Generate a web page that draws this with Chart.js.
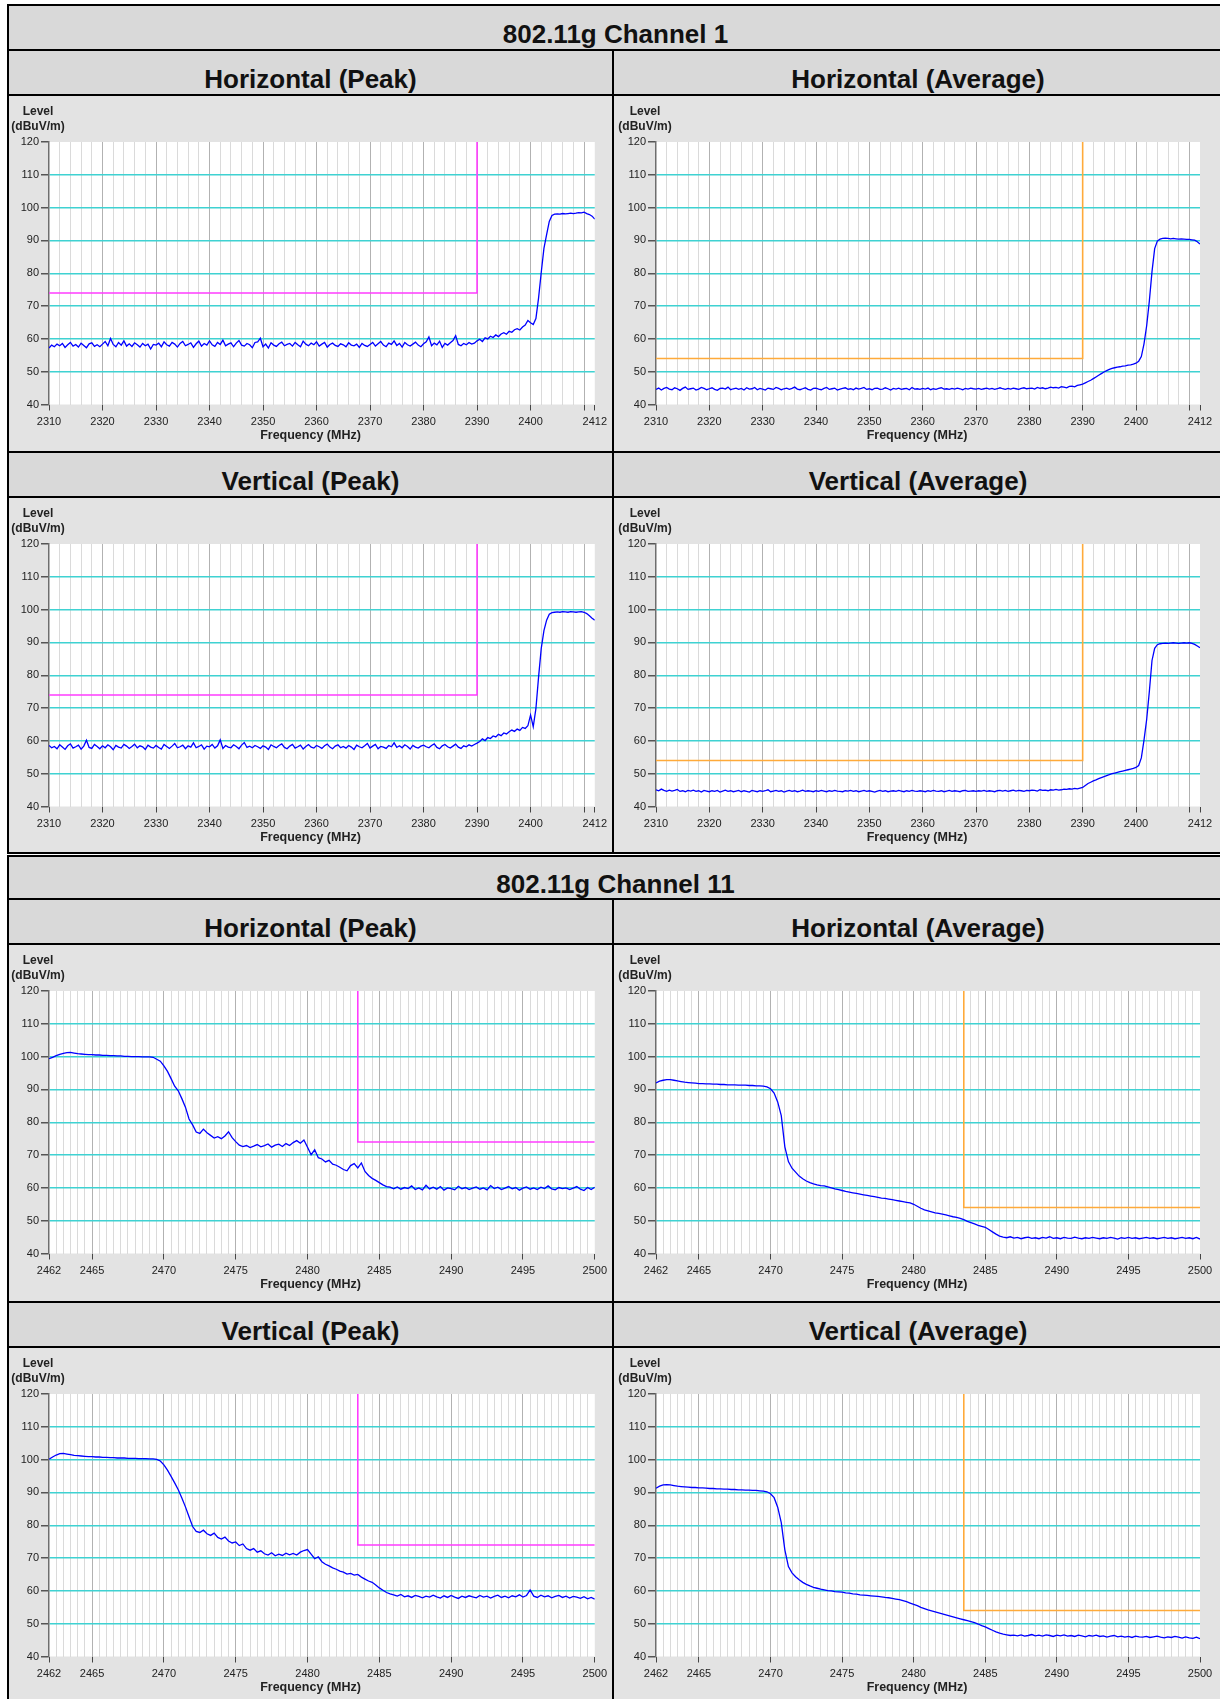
<!DOCTYPE html>
<html>
<head>
<meta charset="utf-8">
<title>802.11g Band Edge</title>
<script src="https://cdn.jsdelivr.net/npm/chart.js@4.4.1/dist/chart.umd.min.js"></script>
<style>
  html, body { margin: 0; padding: 0; background: #fff; }
  body { width: 1220px; height: 1699px; overflow: hidden; position: relative;
         font-family: "Liberation Sans", Arial, sans-serif; }
  .rule { position: absolute; background: #000; z-index: 3; }
  .head { position: absolute; background: #d9d9d9; text-align: center; font-weight: bold;
          font-size: 26px; line-height: 26px; color: #111; box-sizing: border-box; padding-top: 15px; }
  .panel { position: absolute; background: #e3e3e3; }
  canvas { position: absolute; z-index: 2; }
</style>
</head>
<body>

<!-- Channel 1 table -->
<div class="head" style="left:9px;top:6px;width:1213px;height:43px;">802.11g Channel 1</div>
<div class="head" style="left:9px;top:51px;width:603px;height:43px;">Horizontal (Peak)</div>
<div class="head" style="left:614px;top:51px;width:608px;height:43px;">Horizontal (Average)</div>
<div class="panel" style="left:9px;top:96px;width:603px;height:355px;"></div>
<div class="panel" style="left:614px;top:96px;width:608px;height:355px;"></div>
<div class="head" style="left:9px;top:453px;width:603px;height:43px;">Vertical (Peak)</div>
<div class="head" style="left:614px;top:453px;width:608px;height:43px;">Vertical (Average)</div>
<div class="panel" style="left:9px;top:498px;width:603px;height:354px;"></div>
<div class="panel" style="left:614px;top:498px;width:608px;height:354px;"></div>

<div class="rule" style="left:7px;top:4px;width:1215px;height:2px;"></div>
<div class="rule" style="left:7px;top:49px;width:1215px;height:2px;"></div>
<div class="rule" style="left:7px;top:94px;width:1215px;height:2px;"></div>
<div class="rule" style="left:7px;top:451px;width:1215px;height:2px;"></div>
<div class="rule" style="left:7px;top:496px;width:1215px;height:2px;"></div>
<div class="rule" style="left:7px;top:852px;width:1215px;height:2px;"></div>
<div class="rule" style="left:7px;top:4px;width:2px;height:850px;"></div>
<div class="rule" style="left:612px;top:49px;width:2px;height:805px;"></div>

<!-- Channel 11 table -->
<div class="head" style="left:9px;top:857px;width:1213px;height:41px;padding-top:14px;">802.11g Channel 11</div>
<div class="head" style="left:9px;top:900px;width:603px;height:43px;">Horizontal (Peak)</div>
<div class="head" style="left:614px;top:900px;width:608px;height:43px;">Horizontal (Average)</div>
<div class="panel" style="left:9px;top:945px;width:603px;height:356px;"></div>
<div class="panel" style="left:614px;top:945px;width:608px;height:356px;"></div>
<div class="head" style="left:9px;top:1303px;width:603px;height:43px;">Vertical (Peak)</div>
<div class="head" style="left:614px;top:1303px;width:608px;height:43px;">Vertical (Average)</div>
<div class="panel" style="left:9px;top:1348px;width:603px;height:360px;"></div>
<div class="panel" style="left:614px;top:1348px;width:608px;height:360px;"></div>

<div class="rule" style="left:7px;top:855px;width:1215px;height:2px;"></div>
<div class="rule" style="left:7px;top:898px;width:1215px;height:2px;"></div>
<div class="rule" style="left:7px;top:943px;width:1215px;height:2px;"></div>
<div class="rule" style="left:7px;top:1301px;width:1215px;height:2px;"></div>
<div class="rule" style="left:7px;top:1346px;width:1215px;height:2px;"></div>
<div class="rule" style="left:7px;top:855px;width:2px;height:860px;"></div>
<div class="rule" style="left:612px;top:898px;width:2px;height:820px;"></div>

<canvas id="c1hp" width="603" height="355" style="left:9px;top:96px;"></canvas>
<canvas id="c1ha" width="606" height="355" style="left:614px;top:96px;"></canvas>
<canvas id="c1vp" width="603" height="355" style="left:9px;top:498px;"></canvas>
<canvas id="c1va" width="606" height="355" style="left:614px;top:498px;"></canvas>
<canvas id="c11hp" width="603" height="355" style="left:9px;top:945px;"></canvas>
<canvas id="c11ha" width="606" height="355" style="left:614px;top:945px;"></canvas>
<canvas id="c11vp" width="603" height="355" style="left:9px;top:1348px;"></canvas>
<canvas id="c11va" width="606" height="355" style="left:614px;top:1348px;"></canvas>

<script>
// ---- Sweep settings (MHz) ----
const CH1_START = 2310, CH1_STOP = 2412, CH1_STEP = 0.5;
const CH11_START = 2462, CH11_STOP = 2500, CH11_STEP = 0.25;

// ---- Limits ----
const LEVEL_MIN = 40, LEVEL_MAX = 120;
const PEAK_LIMIT = 74;      // dBuV/m
const AVG_LIMIT = 54;       // dBuV/m
const CH1_BAND_EDGE = 2390;
const CH11_BAND_EDGE = 2483.5;

// ---- Axis labels ----
const levelTicks = [40, 50, 60, 70, 80, 90, 100, 110, 120];
const ch1TickLabels = [2310, 2320, 2330, 2340, 2350, 2360, 2370, 2380, 2390, 2400, 2412];
const ch1TickMarks = [2310, 2320, 2330, 2340, 2350, 2360, 2370, 2380, 2390, 2400, 2410, 2412];
const ch1MajorGrid = [2320, 2330, 2340, 2350, 2360, 2370, 2380, 2390, 2400, 2410];
const ch11TickLabels = [2462, 2465, 2470, 2475, 2480, 2485, 2490, 2495, 2500];
const ch11MajorGrid = [2465, 2470, 2475, 2480, 2485, 2490, 2495];

// ---- Channel 1 traces, 0.5 MHz per point from 2310 MHz ----
const ch1HorizontalPeak = [
  57.2,58.1,57.6,58.4,57.9,58.6,57.4,58.2,58.9,57.8,
  58.3,57.5,58.7,58.0,57.3,58.5,58.8,57.7,58.2,57.6,
  58.4,59.2,57.9,60.1,58.3,57.6,58.9,58.1,59.4,57.8,
  58.5,57.7,58.8,58.2,57.5,58.6,57.9,58.4,56.9,58.3,
  58.1,58.7,57.6,59.1,58.2,57.8,58.9,58.4,57.5,58.6,
  59.2,57.9,58.3,58.8,57.4,58.5,59.3,57.8,58.6,58.1,
  59.4,58.2,57.7,58.9,58.3,59.6,57.9,58.4,58.8,57.6,
  58.7,59.5,58.1,57.8,58.6,58.2,57.3,58.9,59.1,60.2,
  57.6,58.4,57.2,58.8,58.1,57.7,58.5,59.0,57.9,58.3,
  58.6,57.8,58.9,58.2,57.6,59.3,58.4,57.9,58.7,58.2,
  59.1,57.8,58.4,58.9,57.5,58.3,58.7,58.0,57.7,58.5,
  58.2,57.6,58.8,58.1,57.9,58.4,57.4,58.6,58.0,57.7,
  58.3,58.9,57.8,58.5,59.2,58.1,57.6,58.7,58.3,59.4,
  58.0,58.6,57.5,58.9,58.2,57.8,58.4,59.0,58.1,57.6,
  58.5,59.1,60.6,57.9,58.7,58.2,59.3,57.4,58.6,58.1,
  58.8,59.5,61.0,58.3,57.9,58.6,58.2,58.9,58.4,58.7,
  59.4,59.9,59.2,60.3,60.0,60.8,60.4,61.2,60.7,61.5,
  61.9,61.4,62.3,62.0,62.8,63.1,62.7,63.6,64.2,65.6,
  64.9,64.4,66.2,72.5,80.3,87.6,91.8,95.8,97.6,98.0,
  98.1,98.0,98.2,98.1,98.2,98.3,98.2,98.3,98.5,98.4,
  98.6,98.2,97.9,97.4,96.5
];
const ch1HorizontalAverage = [
  44.6,45.0,44.4,44.9,45.2,44.7,44.5,45.1,44.8,44.3,
  44.9,45.3,44.6,44.8,45.0,44.4,44.7,45.2,44.9,44.5,
  44.8,45.1,44.6,44.3,44.9,45.0,44.7,45.3,44.5,44.8,
  45.0,44.6,44.9,44.4,45.1,44.7,44.8,45.2,44.5,44.9,
  44.7,44.4,45.0,44.8,44.6,45.2,44.9,44.5,44.8,45.0,
  44.6,44.9,45.3,44.7,44.5,44.8,45.1,44.6,44.4,44.9,
  45.0,44.7,44.5,44.9,45.2,44.6,44.8,45.0,44.4,44.7,
  44.9,45.1,44.6,44.8,44.5,45.0,44.7,44.9,45.2,44.6,
  44.8,44.5,44.9,45.0,44.6,44.7,45.1,44.8,44.4,44.9,
  44.7,45.0,44.6,44.8,44.9,44.5,45.2,44.7,44.8,44.6,
  44.9,44.7,45.0,44.5,44.8,44.6,44.9,45.1,44.7,44.8,
  44.6,44.9,44.7,45.0,44.8,44.5,44.9,44.7,45.0,44.8,
  44.7,44.9,44.6,44.8,45.0,44.7,44.9,44.6,44.8,45.1,
  44.8,44.6,44.9,44.7,45.0,44.8,44.6,44.9,45.1,44.8,
  44.9,45.0,44.7,45.2,44.9,45.1,44.8,45.0,45.3,45.1,
  45.2,45.0,45.4,45.3,45.1,45.5,45.6,45.4,45.8,46.0,
  46.2,46.6,47.0,47.4,47.9,48.4,48.9,49.4,49.9,50.3,
  50.7,51.0,51.2,51.4,51.5,51.7,51.8,52.0,52.1,52.3,
  52.6,53.2,54.6,58.5,64.0,71.5,80.5,87.5,89.8,90.4,
  90.6,90.7,90.6,90.5,90.6,90.5,90.4,90.5,90.4,90.3,
  90.3,90.2,90.1,89.6,88.9
];
const ch1VerticalPeak = [
  58.6,57.9,58.3,57.6,58.8,58.1,57.4,58.5,59.1,57.8,
  58.2,58.7,57.5,58.4,60.2,58.0,57.7,58.9,58.3,57.6,
  58.5,57.9,58.8,58.2,57.3,58.6,58.1,57.8,58.9,58.4,
  57.7,58.3,59.0,57.9,58.5,58.2,57.4,58.7,58.1,57.8,
  58.6,58.0,57.5,58.9,58.3,57.7,58.4,59.2,57.9,58.2,
  58.7,57.6,58.5,58.1,59.4,57.9,58.3,58.8,57.5,58.4,
  58.2,58.9,57.8,58.5,60.3,57.7,58.6,58.1,57.9,58.8,
  58.3,57.6,58.7,59.5,58.0,58.4,57.9,58.6,58.2,57.7,
  58.5,58.1,57.4,58.8,58.3,57.9,58.6,59.1,58.0,57.6,
  58.4,58.9,57.8,58.2,58.7,57.5,58.3,58.9,58.1,57.8,
  58.6,58.2,57.7,58.5,59.0,58.1,57.6,58.4,58.8,57.9,
  58.3,57.8,58.6,58.1,57.4,58.7,58.2,57.9,58.5,59.2,
  57.8,58.4,58.9,57.6,58.3,58.1,57.7,58.6,58.2,59.4,
  58.0,58.5,57.9,58.8,58.3,57.5,58.6,58.1,57.8,58.4,
  58.7,58.2,57.9,58.6,59.1,58.0,57.6,58.5,58.9,58.2,
  57.8,58.4,59.0,58.1,57.7,58.5,58.2,58.8,58.4,58.9,
  59.3,59.8,60.6,60.1,61.0,60.7,61.5,61.2,62.0,61.6,
  62.4,62.1,62.8,63.3,62.9,63.6,63.2,64.1,63.8,64.6,
  67.9,64.3,69.8,79.5,88.2,93.6,96.8,98.6,99.1,99.2,
  99.3,99.2,99.4,99.3,99.2,99.4,99.3,99.2,99.3,99.4,
  99.2,98.8,98.1,97.4,96.8
];
const ch1VerticalAverage = [
  45.1,44.8,45.3,44.9,44.6,45.0,44.7,44.9,45.2,44.6,
  44.8,44.5,44.9,44.7,45.0,44.6,44.8,44.4,44.9,44.7,
  44.5,44.8,44.6,44.9,44.4,44.7,45.0,44.6,44.8,44.5,
  44.7,44.9,44.5,44.8,44.6,44.4,44.9,44.7,44.5,44.8,
  44.6,44.8,45.1,44.5,44.7,44.9,44.6,44.8,44.4,44.7,
  44.9,44.6,44.8,44.5,44.7,45.0,44.6,44.8,44.7,44.5,
  44.8,44.6,44.9,44.7,44.5,44.8,44.6,44.9,44.7,44.6,
  44.5,44.8,44.7,44.9,44.6,44.8,44.5,44.7,44.9,44.6,
  44.8,44.6,44.4,44.7,44.9,44.6,44.8,44.5,44.7,44.8,
  44.6,44.9,44.7,44.5,44.8,44.6,44.9,44.7,44.6,44.8,
  44.7,44.5,44.8,44.6,44.9,44.7,44.6,44.8,44.5,44.7,
  44.9,44.6,44.8,44.7,44.5,44.8,44.9,44.6,44.7,44.8,
  44.6,44.8,44.7,44.9,44.6,44.8,44.7,44.5,44.8,44.9,
  44.7,44.9,44.6,44.8,45.0,44.7,44.9,44.8,44.6,44.9,
  44.8,45.0,44.9,44.7,45.1,44.9,45.0,44.8,45.1,45.0,
  45.2,45.0,45.1,45.3,45.2,45.4,45.3,45.5,45.4,45.6,
  45.8,46.4,47.0,47.4,47.8,48.1,48.5,48.8,49.1,49.4,
  49.7,50.0,50.2,50.4,50.6,50.8,51.0,51.2,51.4,51.6,
  51.9,52.5,54.8,60.2,66.5,75.0,84.5,88.2,89.3,89.6,
  89.7,89.8,89.7,89.8,89.9,89.8,89.7,89.8,89.9,89.8,
  89.9,89.7,89.4,88.9,88.4
];

// ---- Channel 11 traces, 0.25 MHz per point from 2462 MHz ----
const ch11HorizontalPeak = [
  99.4,99.8,100.3,100.7,101.0,101.2,101.3,101.1,
  100.9,100.8,100.7,100.6,100.6,100.5,100.5,100.4,
  100.4,100.3,100.3,100.2,100.2,100.1,100.1,100.0,
  100.0,100.0,99.9,99.9,99.9,99.8,99.2,98.6,
  97.2,95.5,93.3,91.0,89.6,87.2,84.6,81.0,
  79.2,77.0,76.6,77.9,76.8,76.0,75.2,75.6,
  75.0,75.8,77.1,75.3,74.1,73.0,72.6,72.9,
  72.3,72.7,73.2,72.5,72.9,73.4,72.4,73.0,
  73.3,72.6,73.5,72.9,73.8,74.4,73.6,74.6,
  72.4,70.1,71.6,69.2,68.8,67.9,68.4,67.2,
  66.9,66.3,65.6,65.2,66.8,67.4,66.1,67.6,
  65.0,63.8,62.9,62.3,61.6,60.9,60.4,60.2,
  59.7,60.3,59.6,60.1,59.8,60.6,59.5,60.0,
  59.4,60.8,59.7,60.2,59.6,60.4,59.3,60.0,
  59.8,59.4,60.5,59.7,60.1,59.5,59.9,60.3,
  59.6,60.0,59.4,60.7,59.8,60.2,59.5,59.9,
  60.4,59.7,60.1,59.3,59.9,60.3,59.6,60.0,
  59.5,60.2,59.8,60.6,59.7,59.4,60.1,59.8,
  60.0,59.5,59.9,60.4,59.6,59.2,60.1,59.5,
  60.2
];
const ch11HorizontalAverage = [
  92.0,92.5,92.8,93.0,93.0,92.8,92.6,92.4,
  92.2,92.1,92.0,91.9,91.8,91.8,91.7,91.7,
  91.6,91.6,91.5,91.5,91.4,91.4,91.4,91.3,
  91.3,91.3,91.2,91.2,91.1,91.1,91.0,90.8,
  90.2,88.9,86.2,82.0,72.5,68.0,66.0,64.8,
  63.6,62.8,62.1,61.6,61.2,60.9,60.7,60.6,
  60.3,60.0,59.7,59.5,59.2,58.9,58.7,58.5,
  58.3,58.1,57.9,57.7,57.5,57.3,57.1,56.9,
  56.8,56.6,56.4,56.2,56.0,55.8,55.6,55.4,
  55.0,54.4,53.8,53.3,53.0,52.7,52.4,52.2,
  52.0,51.8,51.5,51.2,51.0,50.7,50.3,49.8,
  49.4,49.0,48.6,48.3,48.0,47.3,46.6,45.9,
  45.3,45.0,44.8,45.1,44.7,44.9,44.5,44.8,
  45.0,44.6,44.8,44.5,44.9,44.7,45.1,44.6,
  44.8,44.5,44.9,44.7,44.6,45.0,44.7,44.5,
  44.8,44.6,44.9,44.7,44.5,44.8,44.6,44.9,
  44.7,44.4,44.8,44.6,44.9,44.6,44.8,44.5,
  44.7,44.9,44.6,44.8,44.5,44.7,44.9,44.6,
  44.8,44.5,44.7,44.9,44.6,44.8,44.5,44.9,
  44.4
];
const ch11VerticalPeak = [
  100.1,100.8,101.4,101.8,101.9,101.7,101.5,101.3,
  101.2,101.1,101.0,100.9,100.9,100.8,100.8,100.7,
  100.7,100.6,100.6,100.5,100.5,100.5,100.4,100.4,
  100.4,100.3,100.3,100.3,100.2,100.2,100.1,99.6,
  98.4,96.8,94.9,92.9,90.8,88.3,85.6,82.6,
  79.6,78.1,77.8,78.5,77.4,76.9,77.6,76.3,
  75.8,76.4,75.2,74.6,74.9,73.8,74.3,72.9,
  72.4,72.9,71.8,72.2,71.3,70.9,71.6,70.7,
  71.2,70.8,71.5,71.0,71.4,70.9,71.8,72.3,
  72.6,71.2,69.8,70.4,68.9,68.1,67.6,67.0,
  66.6,66.0,65.7,65.1,65.3,64.8,65.0,64.2,
  63.6,63.0,62.6,61.8,60.9,60.2,59.5,59.1,
  58.8,58.4,58.9,58.2,58.5,58.0,58.6,58.3,
  57.9,58.4,58.1,58.7,58.2,57.8,58.5,58.0,
  58.6,58.1,57.7,58.4,58.0,58.5,58.2,57.9,
  58.6,58.1,58.4,57.8,58.3,58.7,58.0,58.4,
  57.9,58.5,58.2,58.8,58.1,58.6,60.3,58.4,
  58.0,58.7,58.2,58.5,57.9,58.3,58.6,58.0,
  58.4,57.8,58.3,58.1,57.7,58.2,57.6,58.0,
  57.5
];
const ch11VerticalAverage = [
  91.3,91.9,92.3,92.4,92.3,92.1,91.9,91.8,
  91.7,91.6,91.5,91.5,91.4,91.4,91.3,91.2,
  91.2,91.1,91.1,91.0,91.0,90.9,90.9,90.8,
  90.8,90.7,90.7,90.6,90.6,90.5,90.4,90.2,
  89.6,88.4,85.5,80.8,72.5,67.4,65.5,64.3,
  63.4,62.6,62.0,61.5,61.1,60.8,60.5,60.3,
  60.1,60.0,59.8,59.7,59.6,59.4,59.3,59.1,
  59.0,58.8,58.7,58.6,58.5,58.4,58.3,58.2,
  58.0,57.9,57.7,57.5,57.3,57.0,56.7,56.3,
  55.9,55.5,55.0,54.6,54.2,53.9,53.6,53.3,
  53.0,52.7,52.4,52.1,51.8,51.5,51.2,50.9,
  50.6,50.3,49.9,49.4,49.0,48.5,48.0,47.5,
  47.1,46.8,46.6,46.4,46.5,46.3,46.6,46.2,
  46.4,46.7,46.3,46.5,46.2,46.6,46.4,46.1,
  46.5,46.3,46.6,46.2,46.4,46.1,46.5,46.3,
  46.0,46.4,46.2,46.5,46.1,46.3,45.9,46.2,
  46.4,46.0,46.2,45.9,46.1,45.8,46.2,46.0,
  45.9,46.1,45.8,46.0,46.2,45.9,45.7,46.0,
  45.8,46.1,45.9,45.6,46.0,45.7,45.5,45.9,
  45.4
];

// ---- Rendering ----
Chart.defaults.font.family = '"Liberation Sans", Arial, sans-serif';

const TRACE_COLOR = '#0000ff';
const PEAK_COLOR = '#ff3cff';
const AVG_COLOR = '#ffaa3a';
const CYAN = '#3fd2d2';
const GRID_MINOR = '#dadada';
const GRID_MAJOR = '#b2b2b2';
const TEXT = '#222222';

const PLOT_TOP = 46;
const PLOT_HEIGHT = 262.5;
const FREQ_TITLE_Y = 339.5;

const near = (list, v) => list.some(a => Math.abs(a - v) < 1e-6);

function toPoints(start, step, levels) {
  return levels.map((y, i) => ({ x: +(start + i * step).toFixed(3), y }));
}

const bands = {
  ch1: {
    start: CH1_START, stop: CH1_STOP, step: CH1_STEP, gridStep: 2,
    labels: ch1TickLabels, marks: ch1TickMarks, major: ch1MajorGrid,
    limitPath: lim => [{ x: CH1_START, y: lim }, { x: CH1_BAND_EDGE, y: lim }, { x: CH1_BAND_EDGE, y: LEVEL_MAX }]
  },
  ch11: {
    start: CH11_START, stop: CH11_STOP, step: CH11_STEP, gridStep: 0.5,
    labels: ch11TickLabels, marks: ch11TickLabels, major: ch11MajorGrid,
    limitPath: lim => [{ x: CH11_BAND_EDGE, y: LEVEL_MAX }, { x: CH11_BAND_EDGE, y: lim }, { x: CH11_STOP, y: lim }]
  }
};

// white plot face, the stacked "Level (dBuV/m)" caption and the frequency caption
const panelDecor = {
  id: 'panelDecor',
  beforeDraw(chart) {
    const { ctx, chartArea: a } = chart;
    ctx.save();
    ctx.fillStyle = '#ffffff';
    ctx.fillRect(a.left, a.top, a.right - a.left, a.bottom - a.top);
    ctx.restore();
  },
  afterDraw(chart) {
    const { ctx } = chart;
    const cx = chart.chartArea.left - 11;
    ctx.save();
    ctx.fillStyle = TEXT;
    ctx.textAlign = 'center';
    ctx.textBaseline = 'middle';
    ctx.font = 'bold 12px "Liberation Sans", Arial, sans-serif';
    ctx.fillText('Level', cx, 16);
    ctx.fillText('(dBuV/m)', cx, 31);
    ctx.font = 'bold 12.5px "Liberation Sans", Arial, sans-serif';
    ctx.fillText('Frequency (MHz)', chart.width / 2, FREQ_TITLE_Y);
    ctx.restore();
  }
};

function drawPanel(id, bandKey, levels, limit, limitColor, axisWidth, plotWidth) {
  const band = bands[bandKey];
  const canvas = document.getElementById(id);
  const W = canvas.width, H = canvas.height;
  new Chart(canvas, {
    type: 'line',
    data: {
      datasets: [
        { data: toPoints(band.start, band.step, levels), borderColor: TRACE_COLOR, borderWidth: 1.3,
          pointRadius: 0, tension: 0, fill: false },
        { data: band.limitPath(limit), borderColor: limitColor, borderWidth: 1.6,
          pointRadius: 0, tension: 0, fill: false }
      ]
    },
    options: {
      responsive: false,
      animation: false,
      events: [],
      layout: { padding: { top: PLOT_TOP, left: 0, bottom: 0, right: W - axisWidth - plotWidth } },
      plugins: { legend: { display: false }, tooltip: { enabled: false } },
      scales: {
        x: {
          type: 'linear', min: band.start, max: band.stop,
          afterFit: s => { s.height = H - PLOT_TOP - PLOT_HEIGHT; },
          border: { display: false },
          grid: {
            z: -2, lineWidth: 1, tickLength: 6,
            color: c => {
              if (!c.tick) return 'rgba(0,0,0,0)';
              const v = c.tick.value;
              if (v <= band.start + 1e-6 || v >= band.stop - 1e-6) return 'rgba(0,0,0,0)';
              return near(band.major, v) ? GRID_MAJOR : GRID_MINOR;
            },
            tickColor: c => (c.tick && near(band.marks, c.tick.value)) ? '#444444' : 'rgba(0,0,0,0)'
          },
          ticks: {
            stepSize: band.gridStep, autoSkip: false, maxRotation: 0, minRotation: 0,
            padding: 5, color: TEXT, font: { size: 11 },
            callback: v => near(band.labels, v) ? String(Math.round(v)) : ''
          },
          title: { display: false }
        },
        y: {
          min: LEVEL_MIN, max: LEVEL_MAX,
          afterFit: s => { s.width = axisWidth; },
          border: { display: true, color: '#6e6e6e', width: 1.5 },
          grid: {
            z: -1, lineWidth: 1.5, tickLength: 8, tickColor: '#555555',
            color: c => {
              if (!c.tick) return 'rgba(0,0,0,0)';
              const v = c.tick.value;
              return (v === LEVEL_MIN || v === LEVEL_MAX) ? 'rgba(0,0,0,0)' : CYAN;
            }
          },
          afterBuildTicks: s => { s.ticks = levelTicks.map(v => ({ value: v })); },
          ticks: { padding: 2, color: TEXT, font: { size: 11 } }
        }
      }
    },
    plugins: [panelDecor]
  });
}

drawPanel('c1hp', 'ch1', ch1HorizontalPeak, PEAK_LIMIT, PEAK_COLOR, 40, 546);
drawPanel('c1ha', 'ch1', ch1HorizontalAverage, AVG_LIMIT, AVG_COLOR, 42, 544);
drawPanel('c1vp', 'ch1', ch1VerticalPeak, PEAK_LIMIT, PEAK_COLOR, 40, 546);
drawPanel('c1va', 'ch1', ch1VerticalAverage, AVG_LIMIT, AVG_COLOR, 42, 544);
drawPanel('c11hp', 'ch11', ch11HorizontalPeak, PEAK_LIMIT, PEAK_COLOR, 40, 546);
drawPanel('c11ha', 'ch11', ch11HorizontalAverage, AVG_LIMIT, AVG_COLOR, 42, 544);
drawPanel('c11vp', 'ch11', ch11VerticalPeak, PEAK_LIMIT, PEAK_COLOR, 40, 546);
drawPanel('c11va', 'ch11', ch11VerticalAverage, AVG_LIMIT, AVG_COLOR, 42, 544);
</script>
</body>
</html>
